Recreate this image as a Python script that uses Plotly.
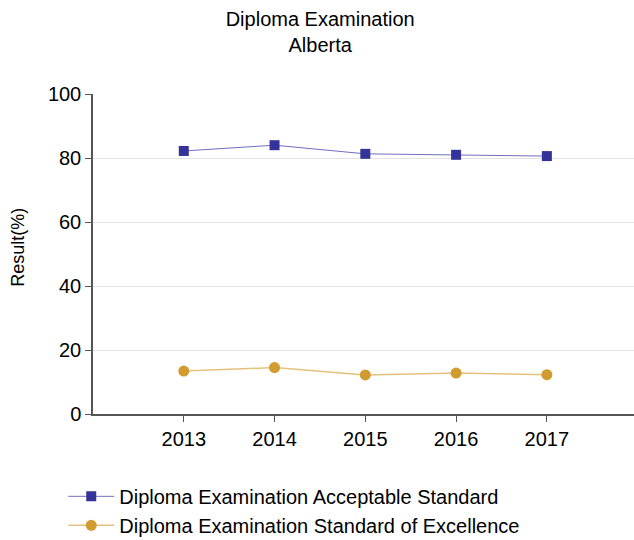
import plotly.graph_objects as go

years = [2013, 2014, 2015, 2016, 2017]
acceptable = [82.2, 84.0, 81.3, 81.0, 80.6]
excellence = [13.4, 14.5, 12.2, 12.8, 12.3]
y_ticks = [0, 20, 40, 60, 80, 100]

fig = go.Figure()
fig.add_trace(go.Scatter(
    x=years, y=acceptable, mode="lines+markers",
    name="Diploma Examination Acceptable Standard",
    line=dict(color="#6f6fbf", width=1),
    marker=dict(symbol="square", size=10, color="#333399"),
))
fig.add_trace(go.Scatter(
    x=years, y=excellence, mode="lines+markers",
    name="Diploma Examination Standard of Excellence",
    line=dict(color="#e3c27e", width=1.5),
    marker=dict(symbol="circle", size=11, color="#d19b2f"),
))

fig.update_layout(
    width=634, height=540,
    paper_bgcolor="white", plot_bgcolor="white",
    font=dict(family="Liberation Sans, Arial, sans-serif", size=20, color="black"),
    title=dict(text="Diploma Examination<br>Alberta", x=0.505, xanchor="center",
               y=0.952, yanchor="top", font=dict(size=20)),
    margin=dict(l=93, r=0, t=94, b=126, autoexpand=False),
    showlegend=True,
    legend=dict(orientation="v", x=-0.055, xanchor="left",
                yref="container", y=0.117, yanchor="top",
                font=dict(size=20), tracegroupgap=0, itemwidth=46),
    xaxis=dict(range=[2012, 2017.96], tickvals=years, ticktext=[str(y) for y in years],
               showgrid=False, showline=True, linecolor="#555555", linewidth=1.5,
               ticks="outside", ticklen=6, tickcolor="#555555", zeroline=False,
               tickfont=dict(size=20)),
    yaxis=dict(range=[0, 100], tickvals=y_ticks, showgrid=True, gridcolor="#e3e3e3",
               showline=True, linecolor="#555555", linewidth=1.5,
               ticks="outside", ticklen=6, tickcolor="#555555", zeroline=False,
               tickfont=dict(size=20)),
    annotations=[dict(text="Result(%)", textangle=-90, showarrow=False,
                      xref="paper", yref="paper", x=-0.14, y=0.52,
                      xanchor="center", yanchor="middle", font=dict(size=18))],
)

fig.write_html("out.html")
